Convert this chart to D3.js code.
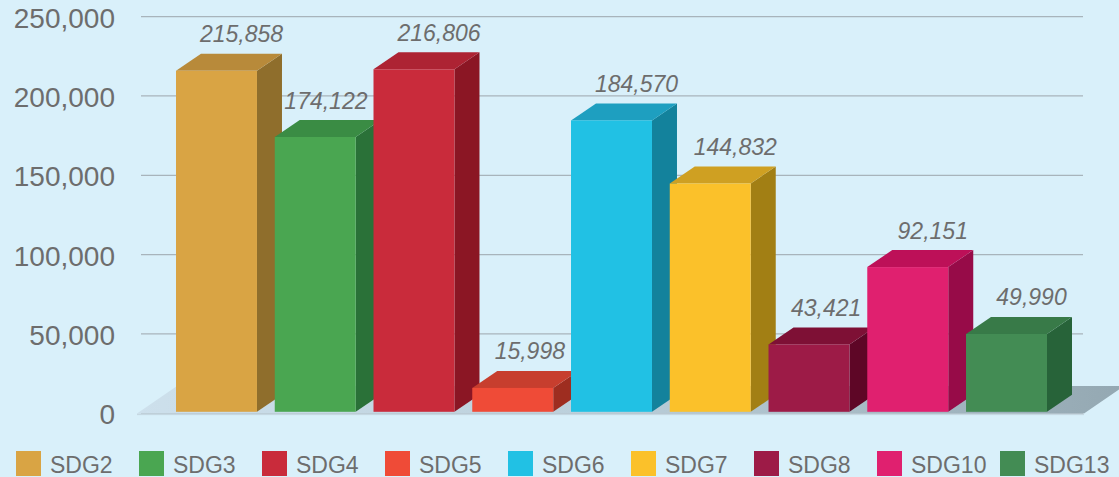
<!DOCTYPE html>
<html>
<head>
<meta charset="utf-8">
<script src="https://cdn.jsdelivr.net/npm/d3@7"></script>
<style>
  html, body { margin: 0; padding: 0; background: #d9f0fa; }
  svg { display: block; font-family: "Liberation Sans", Arial, Helvetica, sans-serif; }
</style>
</head>
<body>
<div id="chart"></div>
<script>
// chart data
const categories = ["SDG2", "SDG3", "SDG4", "SDG5", "SDG6", "SDG7", "SDG8", "SDG10", "SDG13"];
const values = [215858, 174122, 216806, 15998, 184570, 144832, 43421, 92151, 49990];
const frontColors = ["#d9a444", "#4aa651", "#c92b3b", "#ef4b37", "#21c1e4", "#fbc12a", "#9d1b47", "#e0206f", "#438c54"];
const topColors = ["#b88a3a", "#3a8c44", "#ad2333", "#c73e2e", "#1e9fc0", "#cfa022", "#7e1035", "#bd1058", "#387a48"];
const sideColors = ["#8f6e2c", "#2a7138", "#8b1624", "#9e2d20", "#13829c", "#a27f14", "#5e0626", "#970b48", "#276339"];
const yTicks = [0, 50000, 100000, 150000, 200000, 250000];

const width = 1119, height = 477;
const depthX = 25, depthY = 17;   // oblique offset of the bar backs
const textColor = "#6d6d6d";

let svg = d3.select("#chart").append("svg")
    .attr("width", width)
    .attr("height", height);

let y = d3.scaleLinear().domain([0, 250000]).range([413.3, 16.6]);
let x = d3.scaleBand().domain(categories).range([176, 1047]).paddingInner(0.18).paddingOuter(0);
const bw = x.bandwidth();

// gridlines
svg.append("g")
    .selectAll("line")
    .data(yTicks)
    .join("line")
    .attr("x1", 141)
    .attr("x2", 1083)
    .attr("y1", d => y(d))
    .attr("y2", d => y(d))
    .attr("stroke", "#a8b4bb")
    .attr("stroke-width", 1.3);

// y axis labels
let yAxis = svg.append("g")
    .attr("transform", "translate(115,0)")
    .call(d3.axisLeft(y).tickValues(yTicks).tickFormat(d3.format(",")).tickSize(0).tickPadding(0));
yAxis.select(".domain").remove();
yAxis.selectAll("text")
    .attr("dy", "0.38em")
    .attr("fill", textColor)
    .style("font-size", "28px")
    .style("font-family", "'Liberation Sans', Arial, Helvetica, sans-serif");

// floor
let defs = svg.append("defs");
let grad = defs.append("linearGradient").attr("id", "floor-grad")
    .attr("x1", "0%").attr("x2", "100%").attr("y1", "0%").attr("y2", "0%");
grad.append("stop").attr("offset", "0%").attr("stop-color", "#cde0ec");
grad.append("stop").attr("offset", "45%").attr("stop-color", "#bcd0db");
grad.append("stop").attr("offset", "100%").attr("stop-color", "#94a8b2");

const floorFront = y(0) + 0.3, floorLeft = 137, floorRight = 1084;
const floorDX = 40, floorDY = 27.5;
svg.append("path")
    .attr("d", `M${floorLeft},${floorFront} L${floorLeft + floorDX},${floorFront - floorDY}
        L${floorRight + floorDX},${floorFront - floorDY} L${floorRight},${floorFront} Z`)
    .attr("fill", "url(#floor-grad)");
svg.append("rect")
    .attr("x", floorLeft)
    .attr("y", floorFront)
    .attr("width", floorRight - floorLeft)
    .attr("height", 1.5)
    .attr("fill", "#c6d8e2");

// bars (front, top, side)
const bottom = y(0) - 1.5;
let bars = svg.append("g")
    .selectAll("g")
    .data(categories)
    .join("g");

bars.append("path")
    .attr("d", (d, i) => {
        let x0 = x(d) + bw, yt = y(values[i]);
        return `M${x0},${yt} L${x0 + depthX},${yt - depthY} L${x0 + depthX},${bottom - depthY} L${x0},${bottom} Z`;
    })
    .attr("fill", (d, i) => sideColors[i]);

bars.append("path")
    .attr("d", (d, i) => {
        let x0 = x(d), yt = y(values[i]);
        return `M${x0},${yt} L${x0 + depthX},${yt - depthY} L${x0 + bw + depthX},${yt - depthY} L${x0 + bw},${yt} Z`;
    })
    .attr("fill", (d, i) => topColors[i]);

bars.append("rect")
    .attr("x", d => x(d))
    .attr("y", (d, i) => y(values[i]))
    .attr("width", bw)
    .attr("height", (d, i) => bottom - y(values[i]))
    .attr("fill", (d, i) => frontColors[i]);

// value labels
let labels = svg.append("g")
    .selectAll("text")
    .data(categories)
    .join("text")
    .attr("text-anchor", "middle")
    .attr("y", (d, i) => y(values[i]) - 28.5)
    .attr("fill", textColor)
    .style("font-size", "23px")
    .style("font-style", "italic")
    .text((d, i) => d3.format(",")(values[i]));

// center labels over the 3D bar, but keep them clear of a taller neighbour
labels.each(function (d, i) {
    let w = this.getComputedTextLength();
    let cx = x(d) + bw / 2 + 25;
    if (i + 1 < categories.length) {
        let next = categories[i + 1];
        let nextLeft = x(next);
        if (y(values[i + 1]) < y(values[i]) - 28.5 && cx + w / 2 > nextLeft - 6) {
            cx = nextLeft - 6 - w / 2;
        }
    }
    d3.select(this).attr("x", cx);
});

// legend
let legend = svg.append("g")
    .selectAll("g")
    .data(categories)
    .join("g")
    .attr("transform", (d, i) => `translate(${16 + i * 123},451)`);

legend.append("rect")
    .attr("width", 25)
    .attr("height", 25)
    .attr("fill", (d, i) => frontColors[i]);

legend.append("text")
    .attr("x", 34)
    .attr("y", 22)
    .attr("fill", textColor)
    .style("font-size", "23px")
    .text(d => d);
</script>
</body>
</html>
